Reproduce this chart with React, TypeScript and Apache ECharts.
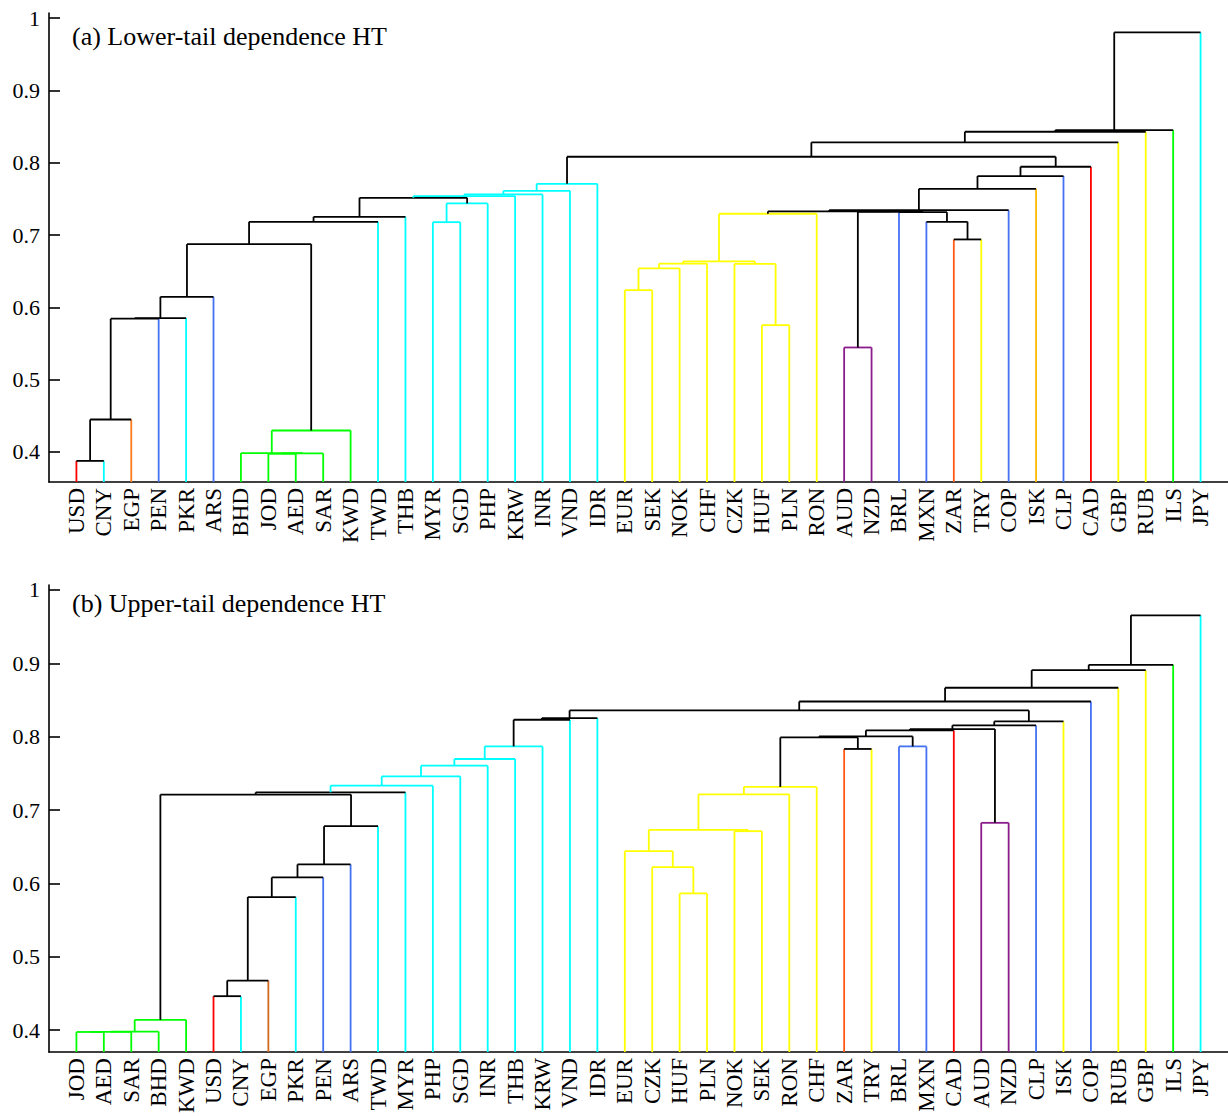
import React, { useEffect, useRef } from 'react';
import * as echarts from 'echarts';

// ---------- Panel (a): lower-tail dependence ----------
const LEAVES_A = ['USD','CNY','EGP','PEN','PKR','ARS','BHD','JOD','AED','SAR','KWD','TWD','THB','MYR','SGD','PHP','KRW','INR','VND','IDR','EUR','SEK','NOK','CHF','CZK','HUF','PLN','RON','AUD','NZD','BRL','MXN','ZAR','TRY','COP','ISK','CLP','CAD','GBP','RUB','ILS','JPY'];
const LEAF_COLORS_A = ['r','c','o','b','c','b','g','g','g','g','g','c','c','c','c','c','c','c','c','c','y','y','y','y','y','y','y','y','p','p','b','b','z','y','b','i','b','r','y','y','g','c'];
// [node id, left child, right child, merge height, link colour]
const MERGES_A: [string, string, string, number, string][] = [
  ['m1','USD','CNY',0.3877,'k'],
  ['m2','m1','EGP',0.4449,'k'],
  ['m3','m2','PEN',0.5843,'k'],
  ['m4','m3','PKR',0.5852,'k'],
  ['m5','m4','ARS',0.6146,'k'],
  ['g1','JOD','AED',0.3975,'g'],
  ['g2','g1','SAR',0.3980,'g'],
  ['g3','BHD','g2',0.3985,'g'],
  ['g4','g3','KWD',0.4297,'g'],
  ['m6','m5','g4',0.6874,'k'],
  ['m7','m6','TWD',0.7183,'k'],
  ['m8','m7','THB',0.7252,'k'],
  ['c1','MYR','SGD',0.7178,'c'],
  ['c2','c1','PHP',0.7437,'c'],
  ['m9','m8','c2',0.7515,'k'],
  ['c3','m9','KRW',0.7538,'c'],
  ['c4','c3','INR',0.7561,'c'],
  ['c5','c4','VND',0.7611,'c'],
  ['c6','c5','IDR',0.7708,'c'],
  ['y1','EUR','SEK',0.6238,'y'],
  ['y2','y1','NOK',0.6538,'y'],
  ['y3','y2','CHF',0.6605,'y'],
  ['y4','HUF','PLN',0.5754,'y'],
  ['y5','CZK','y4',0.6600,'y'],
  ['y6','y3','y5',0.6635,'y'],
  ['y7','y6','RON',0.7294,'y'],
  ['p1','AUD','NZD',0.5445,'p'],
  ['z1','ZAR','TRY',0.6939,'k'],
  ['z2','MXN','z1',0.7183,'k'],
  ['z3','BRL','z2',0.7316,'k'],
  ['z4','p1','z3',0.7321,'k'],
  ['z5','y7','z4',0.7327,'k'],
  ['z6','z5','COP',0.7344,'k'],
  ['z7','z6','ISK',0.7639,'k'],
  ['z8','z7','CLP',0.7815,'k'],
  ['z9','z8','CAD',0.7944,'k'],
  ['t1','c6','z9',0.8082,'k'],
  ['t2','t1','GBP',0.8281,'k'],
  ['t3','t2','RUB',0.8428,'k'],
  ['t4','t3','ILS',0.8451,'k'],
  ['t5','t4','JPY',0.9802,'k'],
];

// ---------- Panel (b): upper-tail dependence ----------
const LEAVES_B = ['JOD','AED','SAR','BHD','KWD','USD','CNY','EGP','PKR','PEN','ARS','TWD','MYR','PHP','SGD','INR','THB','KRW','VND','IDR','EUR','CZK','HUF','PLN','NOK','SEK','RON','CHF','ZAR','TRY','BRL','MXN','CAD','AUD','NZD','CLP','ISK','COP','RUB','GBP','ILS','JPY'];
const LEAF_COLORS_B = ['g','g','g','g','g','r','c','e','c','b','b','c','c','c','c','c','c','c','c','c','y','y','y','y','y','y','y','y','z','y','b','b','r','p','p','b','y','b','y','y','g','c'];
const MERGES_B: [string, string, string, number, string][] = [
  ['g1','JOD','AED',0.3975,'g'],
  ['g2','g1','SAR',0.3977,'g'],
  ['g3','g2','BHD',0.3980,'g'],
  ['g4','g3','KWD',0.4140,'g'],
  ['u1','USD','CNY',0.4463,'k'],
  ['u2','u1','EGP',0.4676,'k'],
  ['u3','u2','PKR',0.5814,'k'],
  ['u4','u3','PEN',0.6082,'k'],
  ['u5','u4','ARS',0.6259,'k'],
  ['u6','u5','TWD',0.6780,'k'],
  ['u7','g4','u6',0.7211,'k'],
  ['u8','u7','MYR',0.7242,'k'],
  ['c1','u8','PHP',0.7333,'c'],
  ['c2','c1','SGD',0.7460,'c'],
  ['c3','c2','INR',0.7605,'c'],
  ['c4','c3','THB',0.7696,'c'],
  ['c5','c4','KRW',0.7868,'c'],
  ['c6','c5','VND',0.8231,'k'],
  ['c7','c6','IDR',0.8254,'k'],
  ['y1','HUF','PLN',0.5864,'y'],
  ['y2','CZK','y1',0.6222,'y'],
  ['y3','EUR','y2',0.6440,'y'],
  ['y4','NOK','SEK',0.6712,'y'],
  ['y5','y3','y4',0.6730,'y'],
  ['y6','y5','RON',0.7215,'y'],
  ['y7','y6','CHF',0.7316,'y'],
  ['z1','ZAR','TRY',0.7833,'k'],
  ['b1','BRL','MXN',0.7868,'b'],
  ['z2','y7','z1',0.7990,'k'],
  ['z3','z2','b1',0.8004,'k'],
  ['z4','z3','CAD',0.8086,'k'],
  ['p1','AUD','NZD',0.6826,'p'],
  ['z5','z4','p1',0.8104,'k'],
  ['z6','z5','CLP',0.8154,'k'],
  ['z7','z6','ISK',0.8208,'k'],
  ['t1','c7','z7',0.8358,'k'],
  ['t2','t1','COP',0.8480,'k'],
  ['t3','t2','RUB',0.8667,'k'],
  ['t4','t3','GBP',0.8907,'k'],
  ['t5','t4','ILS',0.8980,'k'],
  ['t6','t5','JPY',0.9655,'k'],
];

const Y_TICKS = [0.4, 0.5, 0.6, 0.7, 0.8, 0.9, 1];
const Y_RANGE_A = [0.3585, 1.007];
const Y_RANGE_B = [0.3701, 1.0068];
const TITLE_A = '(a) Lower-tail dependence HT';
const TITLE_B = '(b) Upper-tail dependence HT';

const PALETTE: Record<string, string> = {
  k: '#000000', c: '#00FFFF', g: '#00FF00', y: '#FFFF00', r: '#FF0000',
  b: '#4472F2', o: '#FF7A1A', e: '#D2691E', z: '#FF5A14', i: '#FFBB00', p: '#8B1C8B',
};

const FONT = '"Liberation Serif", "Times New Roman", serif';
const LW = 1.8;

function buildLinks(leaves: string[], leafColors: string[], merges: [string, string, string, number, string][], yMin: number) {
  const pos: Record<string, { x: number; h: number; leaf: boolean; col: string }> = {};
  leaves.forEach((n, i) => { pos[n] = { x: i + 1, h: yMin, leaf: true, col: leafColors[i] }; });
  const data: number[][] = [];
  const meta: { lc: string; rc: string; mc: string }[] = [];
  merges.forEach(([id, l, r, h, c], idx) => {
    const L = pos[l], R = pos[r];
    pos[id] = { x: (L.x + R.x) / 2, h, leaf: false, col: c };
    data.push([L.x, L.h, R.x, R.h, h, idx]);
    meta.push({ lc: L.leaf ? L.col : c, rc: R.leaf ? R.col : c, mc: c });
  });
  return { data, meta };
}

function makeSeries(gridIdx: number, leaves: string[], leafColors: string[], merges: any, yMin: number) {
  const { data, meta } = buildLinks(leaves, leafColors, merges, yMin);
  return {
    type: 'custom',
    xAxisIndex: gridIdx,
    yAxisIndex: gridIdx,
    clip: false,
    encode: { x: [0, 2], y: [1, 3, 4] },
    data,
    renderItem: (_params: any, api: any) => {
      const lx = api.value(0), lh = api.value(1), rx = api.value(2), rh = api.value(3), h = api.value(4);
      const m = meta[api.value(5)];
      const a0 = api.coord([lx, lh]), a1 = api.coord([lx, h]);
      const b0 = api.coord([rx, rh]), b1 = api.coord([rx, h]);
      return {
        type: 'group',
        children: [
          { type: 'line', shape: { x1: a0[0], y1: a0[1], x2: a1[0], y2: a1[1] }, style: { stroke: PALETTE[m.lc], lineWidth: LW } },
          { type: 'line', shape: { x1: b0[0], y1: b0[1], x2: b1[0], y2: b1[1] }, style: { stroke: PALETTE[m.rc], lineWidth: LW } },
          { type: 'line', shape: { x1: a1[0], y1: a1[1], x2: b1[0], y2: b1[1] }, style: { stroke: PALETTE[m.mc], lineWidth: LW } },
        ],
      };
    },
  };
}

function xAxis(gridIndex: number, leaves: string[]) {
  return {
    type: 'value', gridIndex, min: 0, max: leaves.length + 1, interval: 1,
    axisLine: { show: true, onZero: false, lineStyle: { color: '#000', width: 1.6 } },
    axisTick: { show: false },
    splitLine: { show: false },
    axisLabel: {
      rotate: 90, margin: 6, fontFamily: FONT, fontSize: 23, color: '#000',
      showMinLabel: false, showMaxLabel: false,
      formatter: (v: number) => leaves[Math.round(v) - 1] ?? '',
    },
  };
}

function yAxis(gridIndex: number, range: number[]) {
  return {
    type: 'value', gridIndex, min: range[0], max: range[1],
    axisLine: { show: true, onZero: false, lineStyle: { color: '#000', width: 1.6 } },
    axisTick: { show: true, inside: true, length: 11, customValues: Y_TICKS, lineStyle: { color: '#000', width: 1.6 } },
    splitLine: { show: false },
    axisLabel: {
      customValues: Y_TICKS, margin: 9, fontFamily: FONT, fontSize: 22, color: '#000',
      formatter: (v: number) => String(Number(v.toFixed(1))),
    },
  };
}

export default function App() {
  const ref = useRef<HTMLDivElement>(null);
  useEffect(() => {
    if (!ref.current) return;
    const chart = echarts.init(ref.current, undefined, { renderer: 'svg' });
    chart.setOption({
      animation: false,
      backgroundColor: '#ffffff',
      title: [
        { text: TITLE_A, left: 72, top: 23, padding: 0, textStyle: { fontFamily: FONT, fontSize: 26, fontWeight: 'normal', color: '#000' } },
        { text: TITLE_B, left: 72, top: 590, padding: 0, textStyle: { fontFamily: FONT, fontSize: 26, fontWeight: 'normal', color: '#000' } },
      ],
      grid: [
        { left: 49, top: 13, width: 1180, height: 469 },
        { left: 49, top: 585, width: 1180, height: 468 },
      ],
      xAxis: [xAxis(0, LEAVES_A), xAxis(1, LEAVES_B)],
      yAxis: [yAxis(0, Y_RANGE_A), yAxis(1, Y_RANGE_B)],
      series: [
        makeSeries(0, LEAVES_A, LEAF_COLORS_A, MERGES_A, Y_RANGE_A[0]),
        makeSeries(1, LEAVES_B, LEAF_COLORS_B, MERGES_B, Y_RANGE_B[0]),
      ],
    });
    return () => chart.dispose();
  }, []);
  return <div ref={ref} style={{ position: 'fixed', left: 0, top: 0, width: 1228, height: 1116, background: '#fff' }} />;
}
